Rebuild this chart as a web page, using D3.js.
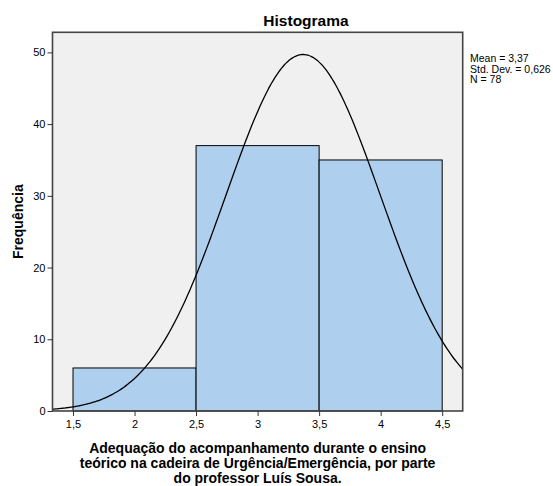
<!DOCTYPE html>
<html lang="pt">
<head>
<meta charset="utf-8">
<title>Histograma</title>
<script src="https://d3js.org/d3.v7.min.js"></script>
<style>
    body { margin: 0; background: #fff; }
    svg text { font-family: "Liberation Sans", Arial, sans-serif; fill: #000; }
    .tick text { font-size: 11px; }
    .tick line { stroke: #333; }
    .domain { display: none; }
</style>
</head>
<body>
<div id="chart"></div>
<script>
    // bins (lower, upper) and counts
    var binStart = [1.5, 2.5, 3.5];
    var binEnd = [2.5, 3.5, 4.5];
    var counts = [6, 37, 35];

    var xTicks = [1.5, 2, 2.5, 3, 3.5, 4, 4.5];
    var yTicks = [0, 10, 20, 30, 40, 50];

    var MEAN = 3.37;
    var SD = 0.626;
    var N = 78;
    var statLines = ["Mean = 3,37", "Std. Dev. = 0,626", "N = 78"];

    var WIDTH = 553, HEIGHT = 486;
    var plotLeft = 52.5, plotRight = 462.7, plotTop = 32.3, plotBottom = 411;

    var svg = d3.select("#chart").append("svg")
        .attr("width", WIDTH)
        .attr("height", HEIGHT);

    var x = d3.scaleLinear().domain([1.3333, 4.6667]).range([plotLeft, plotRight]);
    var y = d3.scaleLinear().domain([0, 52.8]).range([plotBottom, plotTop]);

    var fmt = d => String(d).replace(".", ",");

    // plot background
    svg.append("rect")
        .attr("x", plotLeft).attr("y", plotTop)
        .attr("width", plotRight - plotLeft).attr("height", plotBottom - plotTop)
        .attr("fill", "#f0f0f0");

    // bars
    svg.selectAll(".bar").data(counts)
        .enter().append("rect")
        .attr("class", "bar")
        .attr("x", (d, i) => x(binStart[i]))
        .attr("y", d => y(d))
        .attr("width", (d, i) => x(binEnd[i]) - x(binStart[i]))
        .attr("height", d => y(0) - y(d))
        .attr("fill", "#aed0ee")
        .attr("stroke", "#000")
        .attr("stroke-width", 1);

    // normal curve from the mean / sd shown in the legend
    var binW = 1;
    var dom = x.domain();
    var curveX = d3.range(0, 201).map(i => dom[0] + (dom[1] - dom[0]) * i / 200);
    var line = d3.line()
        .x(d => x(d))
        .y(d => y(N * binW / (SD * Math.sqrt(2 * Math.PI)) * Math.exp(-0.5 * Math.pow((d - MEAN) / SD, 2))))
        .curve(d3.curveBasis);
    svg.append("path")
        .attr("d", line(curveX))
        .attr("fill", "none")
        .attr("stroke", "#000")
        .attr("stroke-width", 1.3);

    // frame
    svg.append("rect")
        .attr("x", plotLeft).attr("y", plotTop)
        .attr("width", plotRight - plotLeft).attr("height", plotBottom - plotTop)
        .attr("fill", "none")
        .attr("stroke", "#444")
        .attr("stroke-width", 1.6);

    // axes
    svg.append("g")
        .attr("transform", "translate(0," + plotBottom + ")")
        .call(d3.axisBottom(x).tickValues(xTicks).tickFormat(fmt).tickSize(5).tickPadding(4));
    svg.append("g")
        .attr("transform", "translate(" + plotLeft + ",0)")
        .call(d3.axisLeft(y).tickValues(yTicks).tickSize(5).tickPadding(2));

    // title
    svg.append("text")
        .attr("x", 306).attr("y", 26)
        .attr("text-anchor", "middle")
        .style("font-size", "15.5px").style("font-weight", "bold")
        .text("Histograma");

    // y label
    svg.append("text")
        .attr("transform", "translate(23," + ((plotTop + plotBottom) / 2) + ") rotate(-90)")
        .attr("text-anchor", "middle")
        .style("font-size", "14px").style("font-weight", "bold")
        .text("Frequência");

    // x label
    var xLabel = ["Adequação do acompanhamento durante o ensino",
        "teórico na cadeira de Urgência/Emergência, por parte",
        "do professor Luís Sousa."];
    svg.append("text")
        .attr("text-anchor", "middle")
        .style("font-size", "14px").style("font-weight", "bold")
        .selectAll("tspan").data(xLabel)
        .enter().append("tspan")
        .attr("x", (plotLeft + plotRight) / 2)
        .attr("y", (d, i) => 453 + i * 15)
        .text(d => d);

    // stats
    svg.append("g").selectAll("text").data(statLines)
        .enter().append("text")
        .attr("x", 470)
        .attr("y", (d, i) => 62 + i * 10.5)
        .style("font-size", "10.5px")
        .text(d => d);
</script>
</body>
</html>
